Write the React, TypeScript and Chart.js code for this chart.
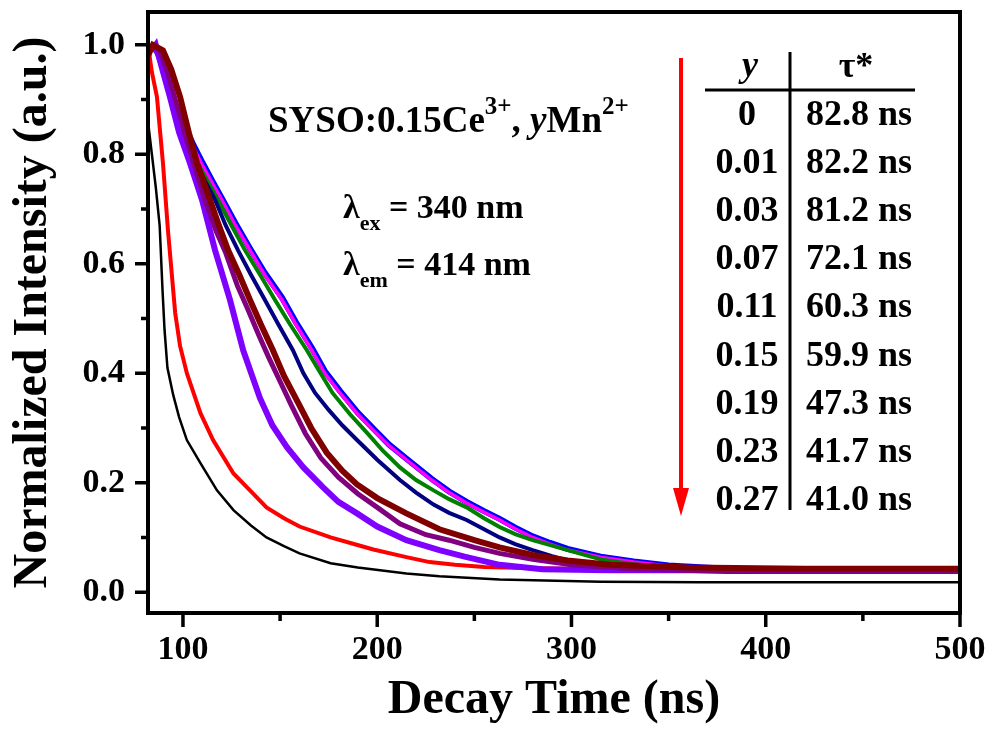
import React, { useEffect, useRef } from 'react';
import { Chart, registerables } from 'chart.js';

Chart.register(...registerables);

// ---- axes ----
const xMin = 82;
const xMax = 500;
const yMin = -0.038;
const yMax = 1.06;
const xMajorTicks = [100, 200, 300, 400, 500];
const xMinorTicks = [150, 250, 350, 450];
const yMajorTicks = [0, 0.2, 0.4, 0.6, 0.8, 1.0];
const yMinorTicks = [0.1, 0.3, 0.5, 0.7, 0.9];

// ---- decay curves (time in ns, normalized intensity) ----
const tBlack = [81, 82, 84, 86, 88, 89.5, 90.5, 92, 95, 98, 102, 109, 117.5, 126, 135, 143, 152, 160, 176, 190, 215, 232, 263, 315, 366, 420, 470, 500];
const vBlack = [1.0, 0.86, 0.8, 0.74, 0.67, 0.55, 0.48, 0.41, 0.36, 0.32, 0.278, 0.236, 0.186, 0.15, 0.122, 0.1, 0.084, 0.071, 0.053, 0.045, 0.034, 0.029, 0.023, 0.019, 0.018, 0.018, 0.018, 0.018];

const tRed = [82, 84, 86.6, 89.7, 92.3, 96, 98.5, 102, 109, 115.5, 126, 134.5, 143, 152, 160, 176, 188, 198, 215, 227, 240, 255, 275, 300, 350, 400, 450, 500];
const vRed = [1.0, 0.95, 0.905, 0.784, 0.66, 0.51, 0.45, 0.4, 0.327, 0.278, 0.217, 0.186, 0.155, 0.135, 0.12, 0.1, 0.088, 0.078, 0.064, 0.055, 0.05, 0.046, 0.044, 0.043, 0.043, 0.043, 0.043, 0.043];

const tViolet = [84, 86, 89, 93.3, 98, 103.6, 109.8, 116.5, 124.2, 131, 139.6, 146, 153.5, 162, 172, 180, 189.6, 200, 215, 232, 245, 263, 285, 320, 380, 440, 500];
const vViolet = [0.99, 1.0, 0.96, 0.905, 0.84, 0.784, 0.717, 0.625, 0.534, 0.442, 0.355, 0.305, 0.265, 0.228, 0.192, 0.165, 0.144, 0.12, 0.095, 0.077, 0.065, 0.05, 0.042, 0.04, 0.04, 0.04, 0.04];

const tPurple = [84, 88, 92, 96, 100, 105, 111, 117, 122, 128, 133, 139, 144, 150, 156, 163, 171, 180, 190, 200, 211.7, 225, 237, 250, 263, 280, 300, 330, 380, 440, 500];
const vPurple = [1.0, 0.99, 0.95, 0.9, 0.85, 0.79, 0.72, 0.66, 0.62, 0.56, 0.52, 0.47, 0.43, 0.385, 0.34, 0.29, 0.245, 0.21, 0.18, 0.155, 0.125, 0.105, 0.095, 0.082, 0.071, 0.06, 0.05, 0.043, 0.038, 0.038, 0.038];

const tMaroon = [82, 84.5, 89.7, 94, 98.5, 103, 107.2, 113.9, 118, 123.2, 129, 134.5, 140, 146.3, 152, 158.7, 166, 174, 182, 189.6, 200, 215, 232, 250, 263, 280, 298, 320, 360, 420, 500];
const vMaroon = [0.98, 1.0, 0.99, 0.955, 0.905, 0.84, 0.784, 0.717, 0.675, 0.625, 0.58, 0.534, 0.49, 0.442, 0.395, 0.35, 0.3, 0.255, 0.222, 0.197, 0.172, 0.144, 0.115, 0.095, 0.082, 0.068, 0.058, 0.05, 0.045, 0.043, 0.043];

const tNavy = [84, 88, 93, 98, 105, 110, 116.5, 122, 128.3, 135, 142.2, 149, 156.6, 162, 168, 175, 182, 189.6, 200, 211.7, 220, 229, 237, 246, 255, 263, 271, 280, 290, 298, 315, 340, 380, 440, 500];
const vNavy = [1.0, 0.98, 0.92, 0.86, 0.8, 0.76, 0.717, 0.67, 0.625, 0.58, 0.534, 0.49, 0.442, 0.4, 0.364, 0.333, 0.305, 0.278, 0.242, 0.205, 0.182, 0.16, 0.145, 0.132, 0.115, 0.1, 0.088, 0.077, 0.066, 0.058, 0.05, 0.044, 0.04, 0.038, 0.038];

const tGreen = [84, 88, 93, 98, 105, 112, 118, 125, 131.9, 140, 147.4, 155, 163.8, 170, 177, 186, 195, 203, 211.7, 220, 229, 237, 246, 255, 263, 271, 280, 290, 298, 315, 332, 350, 380, 420, 460, 500];
const vGreen = [1.0, 0.98, 0.92, 0.855, 0.8, 0.755, 0.717, 0.67, 0.625, 0.578, 0.534, 0.49, 0.442, 0.405, 0.364, 0.325, 0.29, 0.258, 0.228, 0.205, 0.186, 0.17, 0.155, 0.135, 0.119, 0.106, 0.095, 0.085, 0.077, 0.06, 0.051, 0.045, 0.04, 0.038, 0.038, 0.038];

const tMagenta = [84, 87, 90, 95, 98.5, 101, 105, 110, 115, 120, 127, 134.5, 142, 151, 158, 166.4, 173, 180.8, 190, 198, 206, 215, 228, 237, 246, 255, 263, 271, 280, 289, 298, 315, 332, 350, 380, 420, 460, 500];
const vMagenta = [1.0, 0.98, 0.95, 0.89, 0.86, 0.845, 0.815, 0.78, 0.748, 0.717, 0.67, 0.625, 0.58, 0.534, 0.49, 0.442, 0.4, 0.364, 0.325, 0.296, 0.268, 0.242, 0.205, 0.182, 0.163, 0.146, 0.132, 0.116, 0.1, 0.088, 0.077, 0.064, 0.055, 0.048, 0.042, 0.04, 0.04, 0.04];

const tBlue = [84, 87, 90, 95, 98.5, 101, 105, 110, 115, 120, 127, 134.5, 142, 151, 158, 166.4, 173, 180.8, 190, 198, 206, 215, 228, 237, 246, 255, 263, 271, 280, 289, 298, 315, 332, 350, 380, 420, 460, 500];
const vBlue = [1.0, 0.985, 0.955, 0.895, 0.865, 0.85, 0.82, 0.785, 0.752, 0.72, 0.674, 0.628, 0.584, 0.538, 0.494, 0.446, 0.404, 0.368, 0.328, 0.299, 0.27, 0.244, 0.207, 0.184, 0.165, 0.148, 0.134, 0.118, 0.102, 0.09, 0.079, 0.065, 0.056, 0.049, 0.043, 0.04, 0.04, 0.04];

// ---- table ----
const tableY = ['0', '0.01', '0.03', '0.07', '0.11', '0.15', '0.19', '0.23', '0.27'];
const tableTau = ['82.8 ns', '82.2 ns', '81.2 ns', '72.1 ns', '60.3 ns', '59.9 ns', '47.3 ns', '41.7 ns', '41.0 ns'];

const SERIF = '"Liberation Serif", "Times New Roman", serif';

function pairs(t: number[], v: number[]) {
  return t.map((x, i) => ({ x, y: v[i] }));
}

type Part = { text: string; size: number; italic?: boolean; dy?: number };

function drawRich(ctx: CanvasRenderingContext2D, x: number, baseline: number, parts: Part[]) {
  let cx = x;
  for (const p of parts) {
    ctx.font = `${p.italic ? 'italic ' : ''}bold ${p.size}px ${SERIF}`;
    ctx.fillText(p.text, cx, baseline + (p.dy || 0));
    cx += ctx.measureText(p.text).width;
  }
}

const decorPlugin = {
  id: 'decor',
  afterDraw(chart: any) {
    const { ctx, chartArea: a, scales } = chart;
    const xs = scales.x;
    const ys = scales.y;
    ctx.save();
    ctx.strokeStyle = '#000';
    ctx.fillStyle = '#000';
    // frame
    ctx.lineWidth = 4;
    ctx.strokeRect(a.left, a.top, a.right - a.left, a.bottom - a.top);
    // ticks
    ctx.lineWidth = 3.5;
    ctx.beginPath();
    for (const v of yMajorTicks) {
      const p = ys.getPixelForValue(v);
      ctx.moveTo(a.left - 13, p);
      ctx.lineTo(a.left, p);
    }
    for (const v of yMinorTicks) {
      const p = ys.getPixelForValue(v);
      ctx.moveTo(a.left - 7, p);
      ctx.lineTo(a.left, p);
    }
    for (const v of xMajorTicks) {
      const p = xs.getPixelForValue(v);
      ctx.moveTo(p, a.bottom);
      ctx.lineTo(p, a.bottom + 14);
    }
    for (const v of xMinorTicks) {
      const p = xs.getPixelForValue(v);
      ctx.moveTo(p, a.bottom);
      ctx.lineTo(p, a.bottom + 8);
    }
    ctx.stroke();

    // annotation text
    ctx.textBaseline = 'alphabetic';
    ctx.textAlign = 'left';
    drawRich(ctx, 268, 132, [
      { text: 'SYSO:0.15Ce', size: 37 },
      { text: '3+', size: 25, dy: -18 },
      { text: ', ', size: 37 },
      { text: 'y', size: 37, italic: true },
      { text: 'Mn', size: 37 },
      { text: '2+', size: 25, dy: -18 },
    ]);
    drawRich(ctx, 343, 218, [
      { text: 'λ', size: 34 },
      { text: 'ex', size: 22, dy: 12 },
      { text: ' = 340 nm', size: 34 },
    ]);
    drawRich(ctx, 343, 275, [
      { text: 'λ', size: 34 },
      { text: 'em', size: 22, dy: 12 },
      { text: ' = 414 nm', size: 34 },
    ]);

    // table
    ctx.lineWidth = 3;
    ctx.beginPath();
    ctx.moveTo(705, 90);
    ctx.lineTo(915, 90);
    ctx.moveTo(790, 52);
    ctx.lineTo(790, 510);
    ctx.stroke();
    ctx.textAlign = 'center';
    ctx.font = `italic bold 36px ${SERIF}`;
    ctx.fillText('y', 750, 76);
    ctx.font = `bold 36px ${SERIF}`;
    ctx.fillText('τ*', 856, 77);
    for (let i = 0; i < tableY.length; i++) {
      const b = 125 + i * 48.1;
      ctx.textAlign = 'center';
      ctx.fillText(tableY[i], 747, b);
      ctx.textAlign = 'left';
      ctx.fillText(tableTau[i], 806, b);
    }

    // red arrow
    ctx.strokeStyle = '#ff0000';
    ctx.fillStyle = '#ff0000';
    ctx.lineWidth = 4;
    ctx.beginPath();
    ctx.moveTo(681, 58);
    ctx.lineTo(681, 492);
    ctx.stroke();
    ctx.beginPath();
    ctx.moveTo(673, 488);
    ctx.lineTo(689, 488);
    ctx.lineTo(681, 516);
    ctx.closePath();
    ctx.fill();
    ctx.restore();
  },
};

export default function App() {
  const ref = useRef<HTMLCanvasElement | null>(null);
  useEffect(() => {
    if (!ref.current) return;
    const tickFont = { family: SERIF, size: 34, weight: 'bold' as const };
    const titleFont = { family: SERIF, size: 48, weight: 'bold' as const };
    const ds = (label: string, t: number[], v: number[], color: string, w: number) => ({
      label,
      data: pairs(t, v),
      borderColor: color,
      backgroundColor: color,
      borderWidth: w,
      pointRadius: 0,
      tension: 0,
      fill: false,
    });
    // first dataset is drawn on top
    const datasets = [
      ds('0.27', tMaroon, vMaroon, '#800000', 6),
      ds('0.23', tPurple, vPurple, '#800080', 5),
      ds('0.19', tViolet, vViolet, '#8000ff', 6),
      ds('0.15', tRed, vRed, '#ff0000', 4),
      ds('0.11', tNavy, vNavy, '#000080', 4),
      ds('0.07', tGreen, vGreen, '#008000', 4),
      ds('0.03', tMagenta, vMagenta, '#ff00ff', 3.5),
      ds('0.01', tBlue, vBlue, '#0000ff', 6),
      ds('0', tBlack, vBlack, '#000000', 2.5),
    ];
    const zeroPad = (s: any) => {
      s.paddingTop = 0;
      s.paddingBottom = 0;
      s.paddingLeft = 0;
      s.paddingRight = 0;
    };
    const chart = new Chart(ref.current, {
      type: 'line',
      data: { datasets },
      options: {
        animation: false,
        responsive: false,
        devicePixelRatio: 1,
        layout: { autoPadding: false, padding: { top: 12, right: 30, left: 0, bottom: 0 } },
        plugins: { legend: { display: false }, tooltip: { enabled: false } },
        scales: {
          x: {
            type: 'linear',
            min: xMin,
            max: xMax,
            afterFit: (s: any) => { s.height = 116; zeroPad(s); },
            grid: { display: false, drawTicks: false },
            border: { display: false },
            ticks: {
              stepSize: 100,
              includeBounds: false,
              padding: 17,
              autoSkip: false,
              maxRotation: 0,
              color: '#000',
              font: tickFont,
              callback: (v: any) => String(Math.round(Number(v))),
            },
            title: { display: true, text: 'Decay Time (ns)', color: '#000', font: titleFont, padding: { top: 0, bottom: 0 } },
          },
          y: {
            type: 'linear',
            min: yMin,
            max: yMax,
            afterFit: (s: any) => { s.width = 148; zeroPad(s); },
            grid: { display: false, drawTicks: false },
            border: { display: false },
            ticks: {
              stepSize: 0.2,
              includeBounds: false,
              padding: 23,
              color: '#000',
              font: tickFont,
              callback: (v: any) => Number(v).toFixed(1),
            },
            title: { display: true, text: 'Normalized Intensity (a.u.)', color: '#000', font: titleFont, padding: { top: 5, bottom: 0 } },
          },
        },
      } as any,
      plugins: [decorPlugin],
    });
    return () => chart.destroy();
  }, []);
  return (
    <div style={{ position: 'absolute', left: 0, top: 0, width: 990, height: 729, background: '#fff' }}>
      <canvas ref={ref} width={990} height={729} />
    </div>
  );
}
